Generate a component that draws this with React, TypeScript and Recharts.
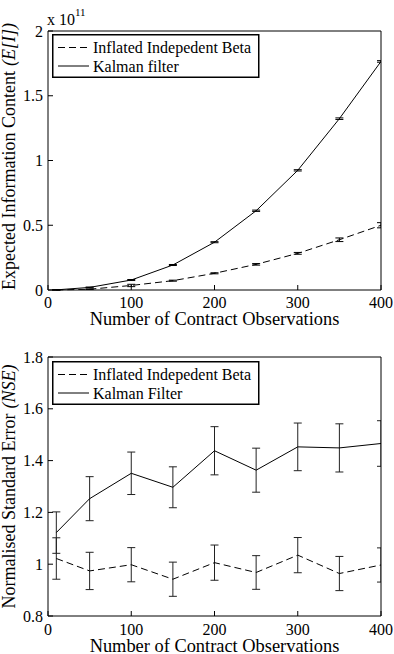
import React from "react"
import { LineChart, Line, XAxis, YAxis, ErrorBar, Legend, Label } from "recharts"

const FONT = '"Liberation Serif", "Times New Roman", "DejaVu Serif", serif'

// contract observation counts shared by both panels
const observations = [10, 50, 100, 150, 200, 250, 300, 350, 400]
const xTicks = [0, 100, 200, 300, 400]

// expected information content, scaled by 1e11
const betaInfo = [0.0005, 0.006, 0.035, 0.072, 0.129, 0.198, 0.283, 0.388, 0.5]
const betaInfoErr = [0.0005, 0.002, 0.009, 0.004, 0.004, 0.006, 0.007, 0.014, 0.02]
const kalmanInfo = [0.001, 0.02, 0.077, 0.193, 0.369, 0.612, 0.924, 1.323, 1.765]
const kalmanInfoErr = [0.001, 0.003, 0.004, 0.004, 0.004, 0.005, 0.005, 0.006, 0.006]
const infoTicks = [0, 0.5, 1, 1.5, 2]

// normalised standard error
const betaNse = [1.022, 0.974, 0.998, 0.942, 1.006, 0.968, 1.035, 0.964, 0.997]
const betaNseErr = [0.08, 0.072, 0.066, 0.066, 0.068, 0.065, 0.068, 0.066, 0.066]
const kalmanNse = [1.122, 1.253, 1.351, 1.297, 1.438, 1.363, 1.453, 1.449, 1.466]
const kalmanNseErr = [0.08, 0.085, 0.082, 0.079, 0.093, 0.085, 0.092, 0.093, 0.088]
const nseTicks = [0.8, 1, 1.2, 1.4, 1.6, 1.8]

const infoNames = ["Inflated Indepedent Beta", "Kalman filter"]
const nseNames = ["Inflated Indepedent Beta", "Kalman Filter"]

const buildRows = (beta: number[], betaErr: number[], kalman: number[], kalmanErr: number[]) =>
  observations.map((x, i) => ({
    x,
    beta: beta[i],
    betaErr: betaErr[i],
    kalman: kalman[i],
    kalmanErr: kalmanErr[i],
  }))

const infoRows = buildRows(betaInfo, betaInfoErr, kalmanInfo, kalmanInfoErr)
const nseRows = buildRows(betaNse, betaNseErr, kalmanNse, kalmanNseErr)

const LegendBox = ({ names }: { names: string[] }) => (
  <svg width={208} height={44} style={{ display: "block" }}>
    <rect x={0.75} y={0.75} width={206} height={42.5} fill="#fff" stroke="#000" strokeWidth={1.5} />
    <line x1={6} x2={37} y1={13.5} y2={13.5} stroke="#000" strokeDasharray="7 4" />
    <text x={41} y={13.5} dominantBaseline="central" fontSize={16} fontFamily={FONT} fill="#000">
      {names[0]}
    </text>
    <line x1={6} x2={37} y1={32} y2={32} stroke="#000" />
    <text x={41} y={32} dominantBaseline="central" fontSize={16} fontFamily={FONT} fill="#000">
      {names[1]}
    </text>
  </svg>
)

interface PanelProps {
  id: string
  rows: typeof infoRows
  domain: [number, number]
  ticks: number[]
  names: string[]
  title: string
  titleItalic: string
  titleShift: number
  topH: number
  bottomH: number
  xTickGap: number
  xTitleY: number
  errColor: string
  exponent?: boolean
}

const Panel = (p: PanelProps) => {
  const tickStyle = { fill: "#000", fontSize: 16, fontFamily: FONT }
  const betaId = `${p.id}-beta`
  const kalmanId = `${p.id}-kalman`
  return (
    <LineChart width={394} height={327} data={p.rows} margin={{ top: 0, right: 0, bottom: 0, left: 0 }}>
      <XAxis
        dataKey="x"
        type="number"
        domain={[0, 400]}
        ticks={xTicks}
        interval={0}
        allowDataOverflow
        height={p.bottomH}
        stroke="#000"
        tickSize={-5}
        tickMargin={p.xTickGap}
        tick={tickStyle}
      >
        <Label
          content={() => (
            <text x={214.5} y={p.xTitleY} textAnchor="middle" fontSize={18.4} fontFamily={FONT} fill="#000">
              Number of Contract Observations
            </text>
          )}
        />
      </XAxis>
      <XAxis
        xAxisId="top"
        orientation="top"
        dataKey="x"
        type="number"
        domain={[0, 400]}
        ticks={xTicks}
        interval={0}
        height={p.topH}
        stroke="#000"
        tickSize={-5}
        tick={false}
      />
      <YAxis
        type="number"
        domain={p.domain}
        ticks={p.ticks}
        interval={0}
        width={48}
        stroke="#000"
        tickSize={-5}
        tickMargin={10}
        tick={tickStyle}
      >
        <Label
          content={(lp: any) => {
            const vb = lp.viewBox
            const cy = vb.y + vb.height / 2 + p.titleShift
            return (
              <text
                transform={`translate(15,${cy}) rotate(-90)`}
                textAnchor="middle"
                fontSize={18}
                fontFamily={FONT}
                fill="#000"
              >
                {p.title}
                <tspan dx={5} fontStyle="italic">
                  {p.titleItalic}
                </tspan>
              </text>
            )
          }}
        />
        {p.exponent && (
          <Label
            content={() => (
              <text x={47} y={25} fontSize={16} fontFamily={FONT} fill="#000">
                x 10
                <tspan dy={-9} fontSize={11}>
                  11
                </tspan>
              </text>
            )}
          />
        )}
      </YAxis>
      <YAxis
        yAxisId="right"
        orientation="right"
        type="number"
        domain={p.domain}
        ticks={p.ticks}
        interval={0}
        width={13}
        stroke="#000"
        tickSize={-5}
        tick={false}
      />
      <Legend
        layout="vertical"
        align="center"
        verticalAlign="middle"
        wrapperStyle={{ position: "absolute", left: 52, top: 34, width: 208, height: 44 }}
        content={() => <LegendBox names={p.names} />}
      />
      <Line
        id={betaId}
        dataKey="beta"
        name={p.names[0]}
        stroke="#000"
        strokeWidth={1}
        strokeDasharray="7 4"
        dot={false}
        activeDot={false}
        isAnimationActive={false}
      >
        <ErrorBar
          dataKey="betaErr"
          width={4}
          stroke={p.errColor}
          strokeWidth={1}
          clipPath={`url(#clipPath-${betaId})`}
          isAnimationActive={false}
        />
      </Line>
      <Line
        id={kalmanId}
        dataKey="kalman"
        name={p.names[1]}
        stroke="#000"
        strokeWidth={1}
        dot={false}
        activeDot={false}
        isAnimationActive={false}
      >
        <ErrorBar
          dataKey="kalmanErr"
          width={4}
          stroke={p.errColor}
          strokeWidth={1}
          clipPath={`url(#clipPath-${kalmanId})`}
          isAnimationActive={false}
        />
      </Line>
    </LineChart>
  )
}

export default function App() {
  return (
    <div style={{ width: 394, height: 654, background: "#fff" }}>
      <style>{"body{margin:0;background:#fff}"}</style>
      <Panel
        id="info"
        rows={infoRows}
        domain={[0, 2]}
        ticks={infoTicks}
        names={infoNames}
        title="Expected Information Content"
        titleItalic="(E[I])"
        titleShift={-4}
        topH={31}
        bottomH={37}
        xTickGap={12}
        xTitleY={324.5}
        errColor="#000"
        exponent
      />
      <Panel
        id="nse"
        rows={nseRows}
        domain={[0.8, 1.8]}
        ticks={nseTicks}
        names={nseNames}
        title="Normalised Standard Error"
        titleItalic="(NSE)"
        titleShift={0}
        topH={30}
        bottomH={38}
        xTickGap={13}
        xTitleY={324.5}
        errColor="#222"
      />
    </div>
  )
}
